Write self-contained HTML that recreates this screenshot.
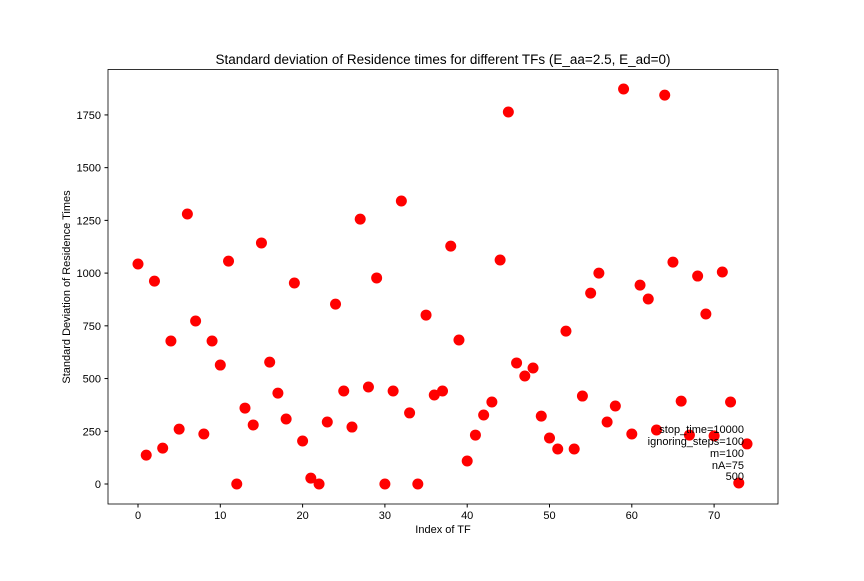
<!DOCTYPE html>
<html><head><meta charset="utf-8"><style>
body{margin:0;background:#fff;}
svg text{font-family:"Liberation Sans","DejaVu Sans",sans-serif;fill:#000;}
</style></head><body>
<svg id="chart" width="864" height="576" viewBox="0 0 864 576" xmlns="http://www.w3.org/2000/svg">
<rect width="864" height="576" fill="#fff"/>
<text x="443" y="64" font-size="13.5" text-anchor="middle">Standard deviation of Residence times for different TFs (E_aa=2.5, E_ad=0)</text>
<rect x="108" y="69.5" width="670" height="434.5" fill="none" stroke="#000" stroke-width="0.8"/>
<g id="xticks"></g>
<g id="yticks"></g>
<text x="443" y="533" font-size="11" text-anchor="middle">Index of TF</text>
<text transform="translate(70,287) rotate(-90)" font-size="11" text-anchor="middle">Standard Deviation of Residence Times</text>
<g id="points"></g>
<g font-size="11" text-anchor="end">
<text x="744" y="433">stop_time=10000</text>
<text x="744" y="445">ignoring_steps=100</text>
<text x="744" y="457">m=100</text>
<text x="744" y="469">nA=75</text>
<text x="744" y="480">500</text>
</g>
</svg>
<script>
const values=[1043,137,962,170,678,260,1280,773,237,678,564,1057,0,360,280,1143,578,431,308,953,204,28,0,294,853,441,270,1256,460,977,0,441,1342,337,0,801,422,441,1128,683,109,232,327,389,1062,1764,574,512,550,322,218,166,725,166,417,905,1000,294,370,1873,237,943,877,256,1844,1052,393,232,986,806,228,1005,389,5,190];
const xTicks=[0,10,20,30,40,50,60,70];
const yTicks=[0,250,500,750,1000,1250,1500,1750];
const NS="http://www.w3.org/2000/svg";
const xs=v=>138+v*8.23;
const ys=v=>484-v*0.2109;
const xg=document.getElementById('xticks'),yg=document.getElementById('yticks'),pg=document.getElementById('points');
xTicks.forEach(t=>{
 const l=document.createElementNS(NS,'line');
 l.setAttribute('x1',xs(t));l.setAttribute('x2',xs(t));l.setAttribute('y1',504);l.setAttribute('y2',507.5);l.setAttribute('stroke','#000');
 
 
 xg.appendChild(l);
 const tx=document.createElementNS(NS,'text');
 tx.setAttribute('x',xs(t));tx.setAttribute('y',519);tx.setAttribute('font-size','11');tx.setAttribute('text-anchor','middle');tx.textContent=t;
 
 
 xg.appendChild(tx);
});
yTicks.forEach(t=>{
 const l=document.createElementNS(NS,'line');
 l.setAttribute('x1',104.5);l.setAttribute('x2',108);l.setAttribute('y1',ys(t));l.setAttribute('y2',ys(t));l.setAttribute('stroke','#000');
 
 
 yg.appendChild(l);
 const tx=document.createElementNS(NS,'text');
 tx.setAttribute('x',101);tx.setAttribute('y',ys(t)+4);tx.setAttribute('font-size','11');tx.setAttribute('text-anchor','end');tx.textContent=t;
 
 
 yg.appendChild(tx);
});
values.forEach((v,i)=>{
 const c=document.createElementNS(NS,'circle');
 c.setAttribute('cx',xs(i));c.setAttribute('cy',ys(v));c.setAttribute('r',5.5);c.setAttribute('fill','#ff0000');
 
 
 pg.appendChild(c);
});
</script>
</body></html>
